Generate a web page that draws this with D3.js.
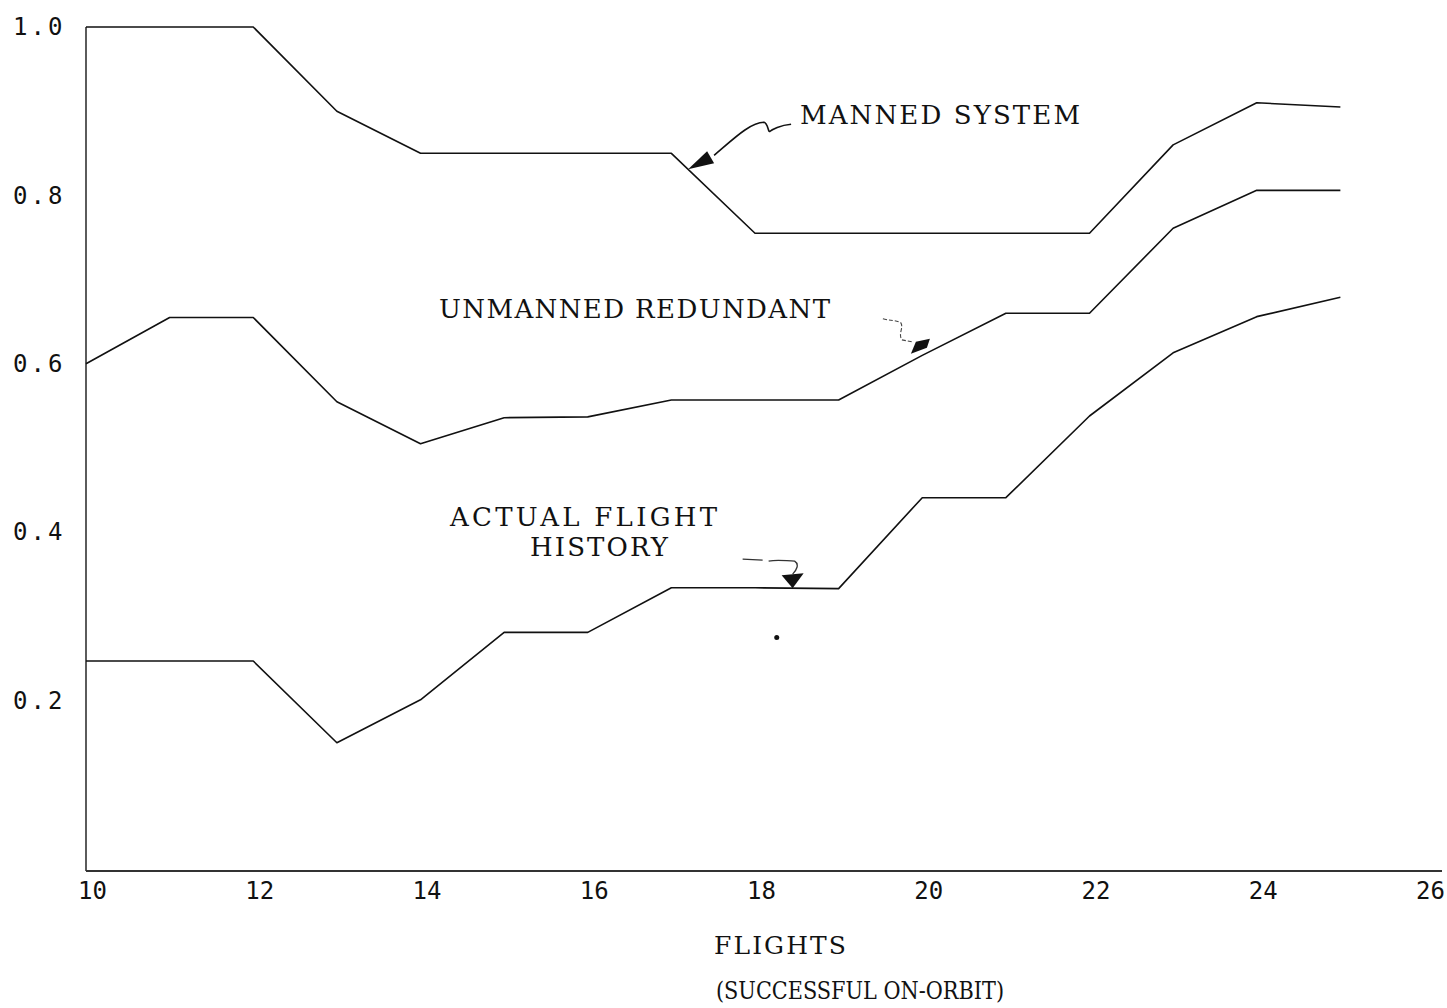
<!DOCTYPE html>
<html>
<head>
<meta charset="utf-8">
<script src="https://cdn.jsdelivr.net/npm/d3@7"></script>
<style>
  html, body { margin: 0; padding: 0; background: #fff; }
  svg { display: block; }
</style>
</head>
<body>
<svg id="chart" width="1447" height="1008"></svg>
<script>
// ---- data ----
const flights = [10, 11, 12, 13, 14, 15, 16, 17, 18, 19, 20, 21, 22, 23, 24, 25];
const mannedSystem = [1.0, 1.0, 1.0, 0.90, 0.85, 0.85, 0.85, 0.85, 0.755, 0.755, 0.755, 0.755, 0.755, 0.86, 0.91, 0.905];
const unmannedRedundant = [0.60, 0.655, 0.655, 0.555, 0.505, 0.536, 0.537, 0.557, 0.557, 0.557, 0.61, 0.66, 0.66, 0.761, 0.806, 0.806];
const actualFlightHistory = [0.247, 0.247, 0.247, 0.150, 0.201, 0.281, 0.281, 0.334, 0.334, 0.333, 0.441, 0.441, 0.538, 0.613, 0.656, 0.679];
const xTickValues = [10, 12, 14, 16, 18, 20, 22, 24, 26];
const yTickValues = [0.2, 0.4, 0.6, 0.8, 1.0];
const xTitle = "FLIGHTS";
const xSubtitle = "(SUCCESSFUL ON-ORBIT)";
const seriesLabels = ["MANNED SYSTEM", "UNMANNED REDUNDANT", "ACTUAL FLIGHT", "HISTORY"];

// ---- layout ----
const svg = d3.select("#chart");
const x = d3.scaleLinear().domain([10, 26]).range([86, 1424]);
const y = d3.scaleLinear().domain([0, 1]).range([869, 27]);
const axisY = 871;
const ink = "#111";
const serif = "'DejaVu Serif', 'Liberation Serif', serif";
const mono = "'DejaVu Sans Mono', 'Liberation Mono', monospace";

// axes lines
svg.append("line")
  .attr("x1", x(10)).attr("x2", x(10))
  .attr("y1", y(1.0)).attr("y2", axisY)
  .attr("stroke", "#333").attr("stroke-width", 1.6);
svg.append("line")
  .attr("x1", x(10)).attr("x2", 1442)
  .attr("y1", axisY).attr("y2", axisY)
  .attr("stroke", "#333").attr("stroke-width", 1.8);

// y axis tick labels
const yAxis = d3.axisLeft(y).tickValues(yTickValues).tickSize(0).tickFormat(d3.format(".1f"));
const gy = svg.append("g").attr("transform", `translate(${x(10)},0)`).call(yAxis);
gy.select(".domain").remove();
gy.selectAll("text")
  .attr("text-anchor", "start")
  .attr("x", 13 - x(10))
  .attr("font-family", mono)
  .attr("font-size", 24)
  .attr("letter-spacing", 3)
  .attr("fill", ink);

// x axis tick labels
const xAxis = d3.axisBottom(x).tickValues(xTickValues).tickSize(0).tickFormat(d3.format("d"));
const gx = svg.append("g").attr("transform", `translate(0,${axisY})`).call(xAxis);
gx.select(".domain").remove();
gx.selectAll("text")
  .attr("y", 28)
  .attr("dy", null)
  .attr("dx", 6)
  .attr("font-family", mono)
  .attr("font-size", 24)
  .attr("fill", ink);

// text helper: serif caps, fitted to the width they take in the reference
function label(txt, x0, yb, len, size, adjust) {
  svg.append("text").text(txt)
    .attr("x", x0).attr("y", yb)
    .attr("font-family", serif).attr("font-size", size)
    .attr("textLength", len).attr("lengthAdjust", adjust || "spacing")
    .attr("fill", ink);
}

// axis titles
label(xTitle, 714, 954, 132, 25);
label(xSubtitle, 716, 999, 288, 24, "spacingAndGlyphs");

// series lines
const line = d3.line().x((d, i) => x(flights[i])).y(d => y(d));
[mannedSystem, unmannedRedundant, actualFlightHistory].forEach(series => {
  svg.append("path")
    .datum(series)
    .attr("d", line)
    .attr("fill", "none")
    .attr("stroke", ink)
    .attr("stroke-width", 1.6)
    .attr("stroke-linejoin", "round");
});

// series labels
label(seriesLabels[0], 800, 124, 280, 26);
label(seriesLabels[1], 439, 318, 391, 26);
label(seriesLabels[2], 450, 526, 267, 26);
label(seriesLabels[3], 530, 556, 138, 26);

// annotation arrows (hand-drawn pointers), anchored to series positions
function interp(series, f) {
  const i = Math.floor(f) - 10, t = f - Math.floor(f);
  return series[i] + (series[i + 1] - series[i]) * t;
}
// manned pointer
{
  const tx = x(17.2), ty = y(interp(mannedSystem, 17.2));
  svg.append("path")
    .attr("d", `M${tx + 103},${ty - 45} C${tx + 92},${ty - 44} ${tx + 84},${ty - 40} ${tx + 82},${ty - 38}
                C${tx + 80},${ty - 36} ${tx + 80},${ty - 46} ${tx + 76},${ty - 47}
                C${tx + 62},${ty - 47} ${tx + 45},${ty - 30} ${tx + 26},${ty - 14}`)
    .attr("fill", "none").attr("stroke", ink).attr("stroke-width", 1.6);
  svg.append("path")
    .attr("d", `M${tx},${ty} L${tx + 19},${ty - 18} L${tx + 26},${ty - 6} Z`)
    .attr("fill", ink);
}
// unmanned pointer
{
  const tx = x(19.9), ty = y(interp(unmannedRedundant, 19.9)) - 6;
  svg.append("path")
    .attr("d", `M${tx - 31},${ty - 35} C${tx - 24},${ty - 33} ${tx - 18},${ty - 34} ${tx - 13},${ty - 31}
                C${tx - 10},${ty - 26} ${tx - 16},${ty - 20} ${tx - 12},${ty - 14} L${tx - 2},${ty - 12}`)
    .attr("fill", "none").attr("stroke", "#444").attr("stroke-width", 1.1).attr("stroke-dasharray", "4,2");
  svg.append("path")
    .attr("d", `M${tx - 3},${ty} L${tx + 2},${ty - 12} L${tx + 16},${ty - 15} L${tx + 13},${ty - 6} Z`)
    .attr("fill", ink);
}
// actual pointer
{
  const tx = x(18.45), ty = y(interp(actualFlightHistory, 18.45));
  svg.append("path")
    .attr("d", `M${tx - 50},${ty - 29} L${tx - 30},${ty - 28} M${tx - 24},${ty - 27} C${tx - 14},${ty - 29} ${tx - 6},${ty - 27} ${tx + 2},${ty - 27}
                C${tx + 7},${ty - 24} ${tx + 4},${ty - 18} ${tx},${ty - 14}`)
    .attr("fill", "none").attr("stroke", "#333").attr("stroke-width", 1.3);
  svg.append("path")
    .attr("d", `M${tx},${ty} L${tx - 11},${ty - 13} L${tx + 11},${ty - 15} Z`)
    .attr("fill", ink);
}
// stray dot in the reference
svg.append("circle")
  .attr("cx", x(18.26)).attr("cy", y(0.275))
  .attr("r", 2.5).attr("fill", ink);
</script>
</body>
</html>
